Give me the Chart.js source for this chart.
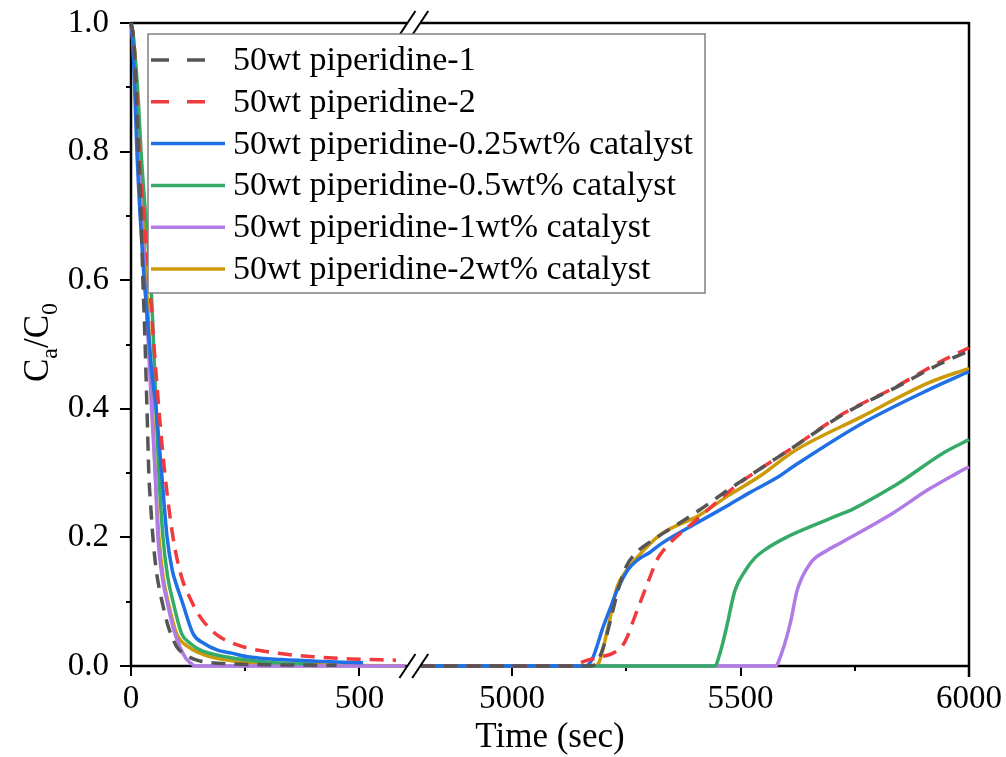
<!DOCTYPE html>
<html lang="en">
<head>
    <meta charset="UTF-8">
    <title>Ca/C0 vs time</title>
    <script src="https://cdn.jsdelivr.net/npm/chart.js"></script>
    <style>
        html, body { margin: 0; padding: 0; background: #ffffff; }
        #wrap { width: 1006px; height: 757px; }
    </style>
</head>
<body>
<div id="wrap"><canvas id="chart" width="1006" height="757"></canvas></div>
<script>
    // series names and colours
    const seriesLabels = [
        "50wt piperidine-1",
        "50wt piperidine-2",
        "50wt piperidine-0.25wt% catalyst",
        "50wt piperidine-0.5wt% catalyst",
        "50wt piperidine-1wt% catalyst",
        "50wt piperidine-2wt% catalyst"
    ];
    const seriesColors = ["#555555", "#f03a3d", "#1f6fe5", "#36ab68", "#b07be6", "#cc9a06"];
    const seriesDashed = [true, true, false, false, false, false];

    // [time (s), Ca/C0]; first part = 0..600 s, second part = 4800..6000 s
    const pip1Left = [[0,1],[5,0.98],[10,0.92],[16,0.8],[22,0.7],[26,0.6],[30,0.52],[35,0.4],[39,0.3],[44,0.24],[48,0.2],[55,0.15],[62,0.12],[68,0.1],[80,0.065],[90,0.045],[100,0.03],[120,0.017],[150,0.008],[200,0.004],[300,0.002],[450,0.001]];
    const pip1Right = [[4800,0],[5170,0],[5185,0.005],[5200,0.03],[5215,0.07],[5232,0.118],[5250,0.155],[5270,0.175],[5302,0.193],[5350,0.215],[5411,0.243],[5473,0.274],[5550,0.31],[5617,0.341],[5726,0.392],[5834,0.431],[5937,0.47],[6000,0.49]];

    const pip2Left = [[0,1],[5,0.98],[10,0.93],[18,0.8],[28,0.7],[40,0.6],[48,0.52],[61,0.4],[74,0.3],[92,0.2],[110,0.14],[133,0.1],[148,0.08],[170,0.06],[195,0.045],[245,0.03],[319,0.02],[407,0.014],[480,0.011],[580,0.009]];
    const pip2Right = [[4800,0],[5130,0],[5160,0.008],[5200,0.015],[5221,0.02],[5240,0.03],[5252,0.045],[5265,0.07],[5280,0.098],[5300,0.135],[5317,0.165],[5335,0.183],[5352,0.196],[5380,0.213],[5411,0.232],[5490,0.28],[5617,0.341],[5726,0.393],[5834,0.432],[5937,0.473],[6000,0.495]];

    const cat025Left = [[0,1],[4,0.97],[8,0.9],[13,0.8],[20,0.7],[27,0.62],[35,0.55],[45,0.46],[55,0.4],[67,0.3],[79,0.2],[90,0.15],[100,0.125],[112,0.1],[136,0.05],[160,0.035],[188,0.025],[220,0.02],[260,0.014],[330,0.01],[420,0.007],[508,0.005]];
    const cat025Right = [[4800,0],[5160,0],[5175,0.01],[5199,0.06],[5215,0.09],[5230,0.118],[5254,0.15],[5275,0.165],[5302,0.177],[5326,0.19],[5411,0.225],[5473,0.25],[5521,0.27],[5580,0.293],[5617,0.311],[5763,0.376],[5910,0.429],[6000,0.458]];

    const cat05Left = [[0,1],[5,0.98],[10,0.94],[16,0.88],[22,0.8],[30,0.72],[38,0.65],[46,0.56],[51,0.47],[55,0.4],[61,0.3],[70,0.2],[80,0.14],[92,0.1],[111,0.05],[130,0.035],[151,0.025],[210,0.014],[300,0.006],[400,0.003]];
    const cat05Right = [[4800,0],[5444,0],[5455,0.02],[5468,0.056],[5488,0.118],[5512,0.15],[5530,0.167],[5556,0.182],[5600,0.2],[5637,0.212],[5726,0.238],[5746,0.244],[5834,0.279],[5856,0.289],[5943,0.331],[6000,0.352]];

    const cat1Left = [[0,1],[4,0.97],[9,0.9],[16,0.8],[23,0.7],[30,0.6],[38,0.5],[45,0.4],[53,0.3],[59,0.2],[68,0.14],[79,0.1],[92,0.06],[107,0.03],[120,0.012],[130,0.005],[140,0],[600,0]];
    const cat1Right = [[4800,0],[5576,0],[5590,0.02],[5609,0.067],[5624,0.118],[5653,0.16],[5690,0.18],[5718,0.191],[5834,0.238],[5910,0.274],[5974,0.3],[6000,0.31]];

    const cat2Left = [[0,1],[5,0.98],[10,0.93],[19,0.8],[26,0.7],[33,0.6],[41,0.5],[47,0.4],[53,0.3],[61,0.2],[70,0.14],[81,0.1],[100,0.05],[125,0.03],[170,0.015],[250,0.006],[350,0.003],[450,0.001],[600,0]];
    const cat2Right = [[4800,0],[5180,0],[5190,0.005],[5210,0.06],[5230,0.123],[5252,0.15],[5295,0.185],[5326,0.205],[5411,0.235],[5473,0.265],[5542,0.295],[5617,0.334],[5763,0.387],[5910,0.44],[6000,0.463]];

    const leftParts = [pip1Left, pip2Left, cat025Left, cat05Left, cat1Left, cat2Left];
    const rightParts = [pip1Right, pip2Right, cat025Right, cat05Right, cat1Right, cat2Right];

    // axis ticks
    const xTickTimes = [0, 250, 500, 5000, 5250, 5500, 5750, 6000];
    const xLabelTimes = [0, 500, 5000, 5500, 6000];
    const yTickValues = [0, 0.1, 0.2, 0.3, 0.4, 0.5, 0.6, 0.7, 0.8, 0.9, 1.0];

    // broken x axis: times after the break are shifted left
    const AXIS_GAP = 4166;
    const BREAK_AT = 618;
    function toAxis(t) { return t > 2000 ? t - AXIS_GAP : t; }
    function fromAxis(v) { return v > BREAK_AT ? v + AXIS_GAP : v; }

    const FONT = "'Liberation Serif', 'Times New Roman', serif";

    const datasets = seriesLabels.map((label, i) => ({
        label: label,
        data: [
            ...leftParts[i].map(p => ({ x: toAxis(p[0]), y: p[1] })),
            { x: BREAK_AT, y: null },
            ...rightParts[i].map(p => ({ x: toAxis(p[0]), y: p[1] }))
        ],
        borderColor: seriesColors[i],
        backgroundColor: seriesColors[i],
        borderWidth: 3.5,
        borderDash: seriesDashed[i] ? [14, 9] : [],
        pointRadius: 0,
        cubicInterpolationMode: 'monotone',
        spanGaps: false,
        clip: 6
    }));

    function noPadding(axis) {
        axis.paddingTop = 0; axis.paddingBottom = 0;
        axis.paddingLeft = 0; axis.paddingRight = 0;
    }

    const framePlugin = {
        id: 'frame',
        beforeDatasetsDraw(chart) {
            const ctx = chart.ctx;
            const a = chart.chartArea;
            const xs = chart.scales.x, ys = chart.scales.y;
            const gapL = xs.getPixelForValue(BREAK_AT - 13);
            const gapR = xs.getPixelForValue(BREAK_AT + 15);
            ctx.save();
            ctx.strokeStyle = '#000';
            ctx.lineWidth = 2.5;
            ctx.lineCap = 'butt';
            ctx.beginPath();
            // left and right
            ctx.moveTo(a.left, a.top - 1); ctx.lineTo(a.left, a.bottom + 1);
            ctx.moveTo(a.right, a.top - 1); ctx.lineTo(a.right, a.bottom + 11);
            // bottom and top, broken
            ctx.moveTo(a.left, a.bottom); ctx.lineTo(gapL, a.bottom);
            ctx.moveTo(gapR, a.bottom); ctx.lineTo(a.right, a.bottom);
            ctx.moveTo(a.left, a.top); ctx.lineTo(gapL, a.top);
            ctx.moveTo(gapR, a.top); ctx.lineTo(a.right, a.top);
            ctx.stroke();
            // ticks
            ctx.lineWidth = 2;
            ctx.beginPath();
            xTickTimes.forEach(t => {
                const px = Math.round(xs.getPixelForValue(toAxis(t)));
                const len = xLabelTimes.includes(t) ? 10 : 5;
                ctx.moveTo(px, a.bottom); ctx.lineTo(px, a.bottom + len);
            });
            yTickValues.forEach((v, i) => {
                const py = Math.round(ys.getPixelForValue(v));
                const len = i % 2 === 0 ? 11 : 5;
                ctx.moveTo(a.left, py); ctx.lineTo(a.left - len, py);
            });
            ctx.stroke();
            ctx.restore();
        },
        afterDatasetsDraw(chart) {
            const ctx = chart.ctx;
            const a = chart.chartArea;
            const xs = chart.scales.x;
            const gapL = xs.getPixelForValue(BREAK_AT - 13);
            const gapR = xs.getPixelForValue(BREAK_AT + 15);
            ctx.save();
            ctx.fillStyle = '#fff';
            ctx.fillRect(gapL, a.bottom - 8, gapR - gapL, 16);
            ctx.strokeStyle = '#000';
            ctx.lineWidth = 2;
            ctx.beginPath();
            [a.top, a.bottom].forEach(y => {
                [gapL, gapR].forEach(x => {
                    ctx.moveTo(x - 8, y + 12); ctx.lineTo(x + 8, y - 12);
                });
            });
            ctx.stroke();

            // axis titles
            ctx.fillStyle = '#000';
            ctx.font = '35px ' + FONT;
            ctx.textAlign = 'center';
            ctx.textBaseline = 'middle';
            ctx.fillText('Time (sec)', (a.left + a.right) / 2, 738);

            // y title C_a/C_0
            const big = '35px ' + FONT, small = '24px ' + FONT;
            const parts = [['C', big, 0], ['a', small, 9], ['/C', big, 0], ['0', small, 9]];
            let total = 0;
            parts.forEach(p => { ctx.font = p[1]; total += ctx.measureText(p[0]).width; });
            ctx.translate(36, (a.top + a.bottom) / 2 - 2);
            ctx.rotate(-Math.PI / 2);
            ctx.textAlign = 'left';
            ctx.textBaseline = 'alphabetic';
            let cx = -total / 2;
            parts.forEach(p => {
                ctx.font = p[1];
                ctx.fillText(p[0], cx, 12 + p[2]);
                cx += ctx.measureText(p[0]).width;
            });
            ctx.restore();
        },
        afterDraw(chart) {
            // legend box
            const ctx = chart.ctx;
            ctx.save();
            ctx.fillStyle = '#fff';
            ctx.fillRect(148, 34, 557, 259);
            ctx.strokeStyle = '#808080';
            ctx.lineWidth = 1.5;
            ctx.strokeRect(148, 34, 557, 259);
            ctx.font = '34px ' + FONT;
            ctx.textBaseline = 'middle';
            ctx.textAlign = 'left';
            chart.data.datasets.forEach((ds, i) => {
                const y = 60 + i * 41.8;
                ctx.strokeStyle = ds.borderColor;
                ctx.lineWidth = 3.5;
                ctx.setLineDash(seriesDashed[i] ? [18, 18] : []);
                ctx.beginPath();
                ctx.moveTo(151, y);
                ctx.lineTo(seriesDashed[i] ? 207 : 225, y);
                ctx.stroke();
                ctx.setLineDash([]);
                ctx.fillStyle = '#000';
                ctx.fillText(ds.label, 233, y + 1);
            });
            ctx.restore();
        }
    };

    new Chart(document.getElementById('chart'), {
        type: 'line',
        data: { datasets: datasets },
        options: {
            responsive: false,
            animation: false,
            devicePixelRatio: 1,
            layout: { autoPadding: false, padding: { left: 0, right: 37, top: 23, bottom: 0 } },
            plugins: { legend: { display: false }, tooltip: { enabled: false } },
            scales: {
                x: {
                    type: 'linear',
                    min: 0,
                    max: toAxis(6000),
                    grid: { display: false, drawTicks: false },
                    border: { display: false },
                    afterBuildTicks: axis => { axis.ticks = xTickTimes.map(t => ({ value: toAxis(t) })); },
                    afterFit: axis => { axis.height = 91; noPadding(axis); },
                    ticks: {
                        autoSkip: false,
                        maxRotation: 0,
                        padding: 14,
                        color: '#000',
                        font: { family: FONT, size: 33 },
                        callback: v => {
                            const t = Math.round(fromAxis(v));
                            return xLabelTimes.includes(t) ? String(t) : '';
                        }
                    }
                },
                y: {
                    min: 0,
                    max: 1,
                    grid: { display: false, drawTicks: false },
                    border: { display: false },
                    afterBuildTicks: axis => { axis.ticks = yTickValues.map(v => ({ value: v })); },
                    afterFit: axis => { axis.width = 131; noPadding(axis); },
                    ticks: {
                        autoSkip: false,
                        padding: 22,
                        color: '#000',
                        font: { family: FONT, size: 33 },
                        callback: (v, i) => i % 2 === 0 ? v.toFixed(1) : ''
                    }
                }
            }
        },
        plugins: [framePlugin]
    });
</script>
</body>
</html>
